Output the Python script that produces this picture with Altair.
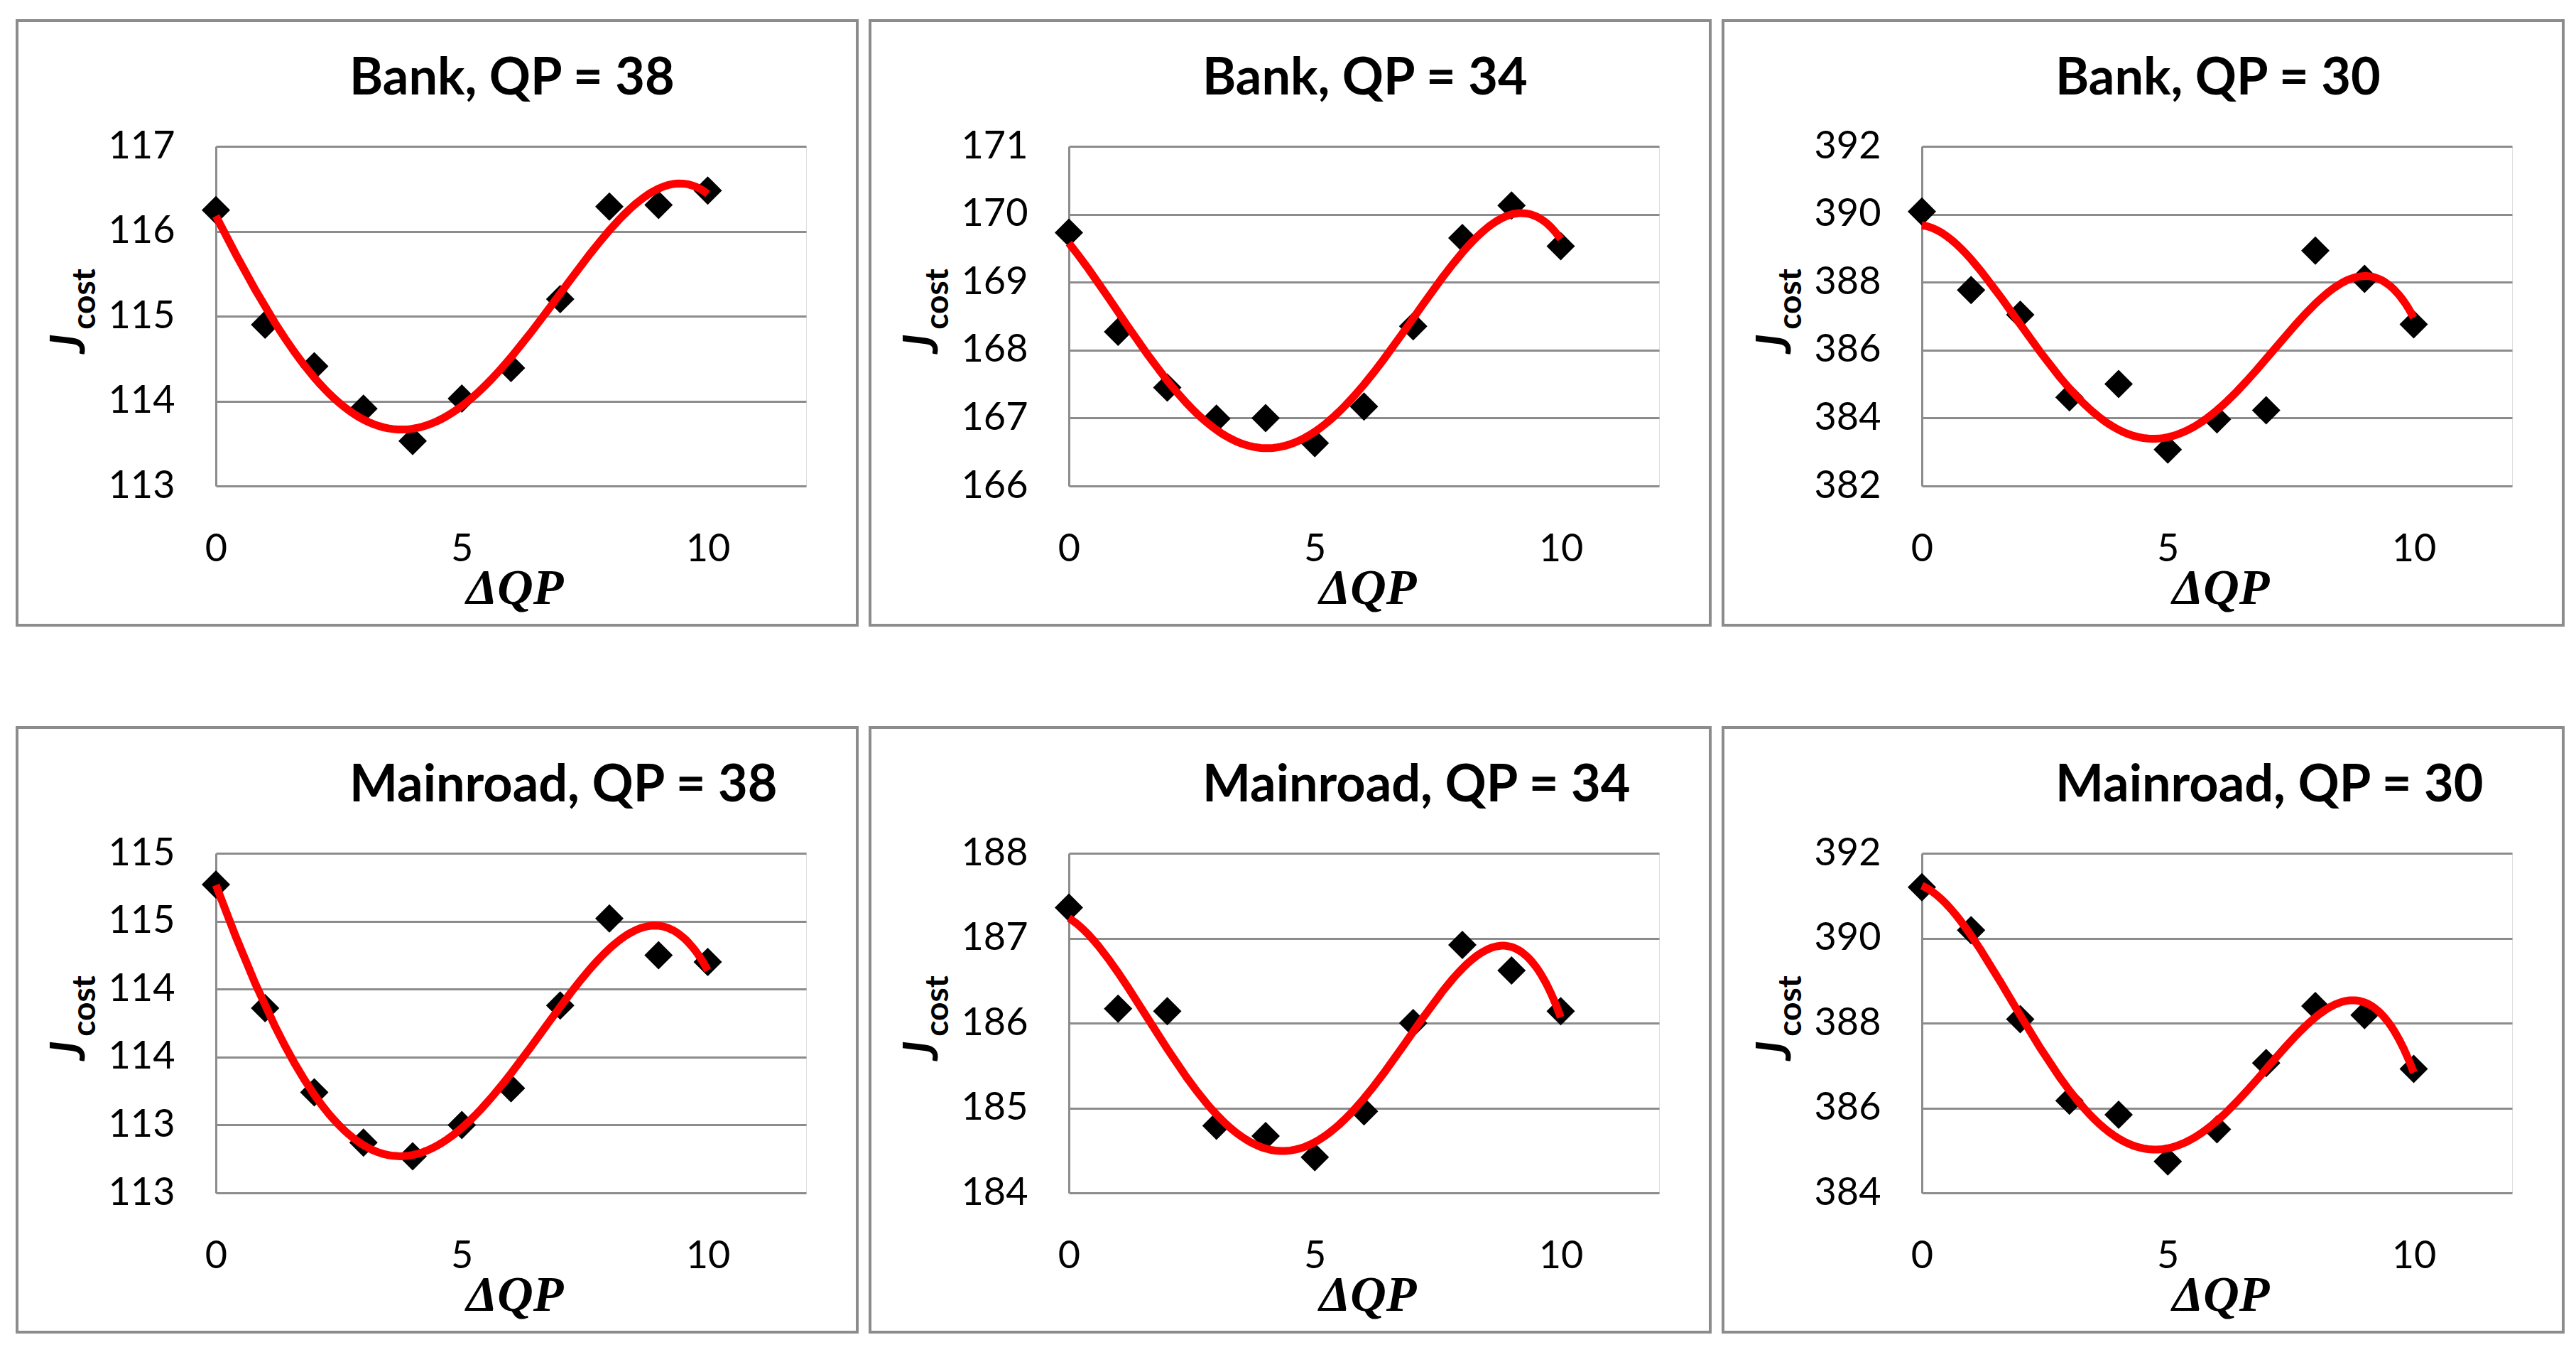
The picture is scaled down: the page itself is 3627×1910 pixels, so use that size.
import altair as alt
import numpy as np
import pandas as pd

# ---- data ----
dqp = list(range(11))
bank38 = [116.25, 114.90, 114.41, 113.91, 113.53, 114.03, 114.39, 115.20, 116.29, 116.31, 116.48]
bank34 = [169.73, 168.27, 167.45, 166.99, 167.00, 166.63, 167.17, 168.35, 169.65, 170.13, 169.53]
bank30 = [390.08, 387.77, 387.04, 384.61, 385.00, 383.07, 383.96, 384.23, 388.93, 388.10, 386.76]
main38 = [114.77, 113.86, 113.24, 112.87, 112.77, 113.00, 113.27, 113.88, 114.52, 114.25, 114.20]
main34 = [187.36, 186.17, 186.14, 184.79, 184.67, 184.42, 184.96, 186.00, 186.92, 186.62, 186.14]
main30 = [391.20, 390.19, 388.09, 386.17, 385.84, 384.74, 385.50, 387.06, 388.40, 388.19, 386.92]

titles = ["Bank, QP = 38", "Bank, QP = 34", "Bank, QP = 30",
          "Mainroad, QP = 38", "Mainroad, QP = 34", "Mainroad, QP = 30"]
series = [bank38, bank34, bank30, main38, main34, main30]
y_ranges = [(113, 117, 1), (166, 171, 1), (382, 392, 2),
            (112.5, 115, 0.5), (184, 188, 1), (384, 392, 2)]
x_ticks = [0, 5, 10]

W, H = 831, 478
GREY = "#8c8c8c"
FONT = "Lato"


def panel(title, values, yr):
    ymin, ymax, step = yr
    df = pd.DataFrame({"x": dqp, "y": values})
    ticks = [float(v) for v in np.arange(ymin, ymax + step / 2, step)]
    xenc = alt.X("x:Q", scale=alt.Scale(domain=[0, 12], nice=False),
                 axis=alt.Axis(values=x_ticks, format="d", title=None, grid=False,
                               domain=False, ticks=False, labelPadding=62,
                               labelFontSize=54, labelFont=FONT, labelColor="black",
                               labelFlush=False))
    yenc = alt.Y("y:Q", scale=alt.Scale(domain=[ymin, ymax], nice=False, zero=False),
                 axis=alt.Axis(values=ticks, format=".0f", title=None, grid=True,
                               gridColor=GREY, gridWidth=3, domain=True,
                               domainColor=GREY, domainWidth=3, ticks=False,
                               labelPadding=58, labelFontSize=54, labelFont=FONT,
                               labelColor="black", labelFlush=False))
    one = alt.Chart(pd.DataFrame({"a": [0]}))
    border = one.mark_rect(fill="transparent", stroke=GREY, strokeWidth=4).encode(
        x=alt.value(-280), x2=alt.value(W + 72), y=alt.value(-177), y2=alt.value(H + 196))
    base = alt.Chart(df)
    pts = base.mark_point(shape="diamond", filled=True, fill="black", color="black",
                          size=1600, opacity=1).encode(x=xenc, y=yenc)
    line = base.transform_regression("x", "y", method="poly", order=4).mark_line(
        color="#ff0000", strokeWidth=11).encode(x="x:Q", y="y:Q")
    ttl = one.mark_text(text=title, align="left", baseline="middle", font=FONT,
                        fontSize=72, fontWeight="bold", color="black").encode(
        x=alt.value(188), y=alt.value(-95))
    jt = one.mark_text(text="J", angle=270, align="center", baseline="middle", font=FONT,
                       fontSize=66, fontStyle="italic", fontWeight="bold", color="black").encode(
        x=alt.value(-205), y=alt.value(278))
    ct = one.mark_text(text="cost", angle=270, align="center", baseline="middle", font=FONT,
                       fontSize=46, fontWeight="bold", color="black").encode(
        x=alt.value(-184), y=alt.value(215))
    xt = one.mark_text(text="ΔQP", align="center", baseline="middle", font="Liberation Serif",
                       fontSize=70, fontStyle="italic", fontWeight="bold", color="black").encode(
        x=alt.value(421), y=alt.value(H + 145))
    return alt.layer(border, pts, line, ttl, jt, ct, xt).properties(width=W, height=H)


panels = [panel(t, s, r) for t, s, r in zip(titles, series, y_ranges)]
row1 = alt.hconcat(*panels[:3], spacing=12)
row2 = alt.hconcat(*panels[3:], spacing=12)
chart = alt.vconcat(row1, row2, spacing=138).properties(
    padding={"left": 13, "top": 18, "right": 5, "bottom": 5}
).configure_view(strokeWidth=0).configure(background="white")

chart.save("out.html", embed_options={"renderer": "svg", "actions": False})
